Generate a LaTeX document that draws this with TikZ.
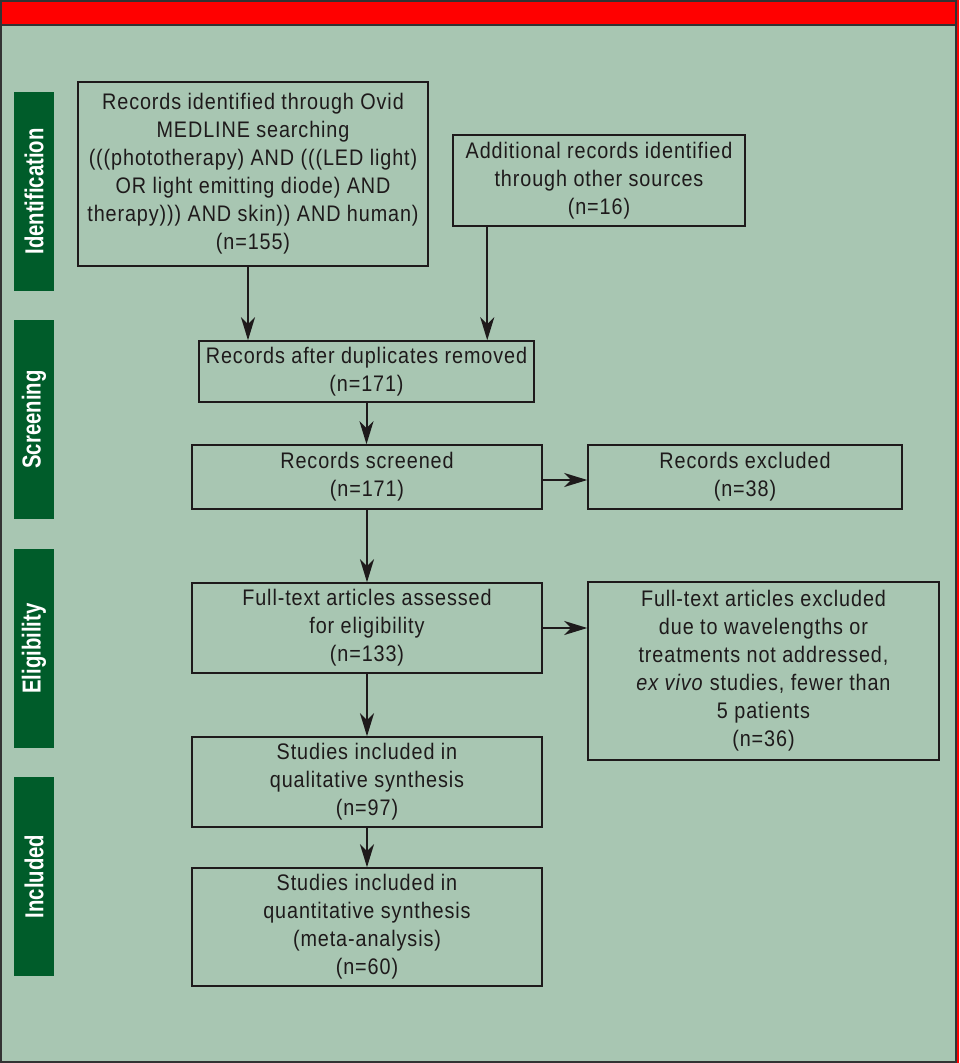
\documentclass[tikz,border=0pt]{standalone}
\usepackage{fontspec}
\usetikzlibrary{arrows.meta,calc}
\newfontfamily\cfont{Liberation Sans}[FakeStretch=0.88, LetterSpace=4]
\newfontfamily\lfont{Liberation Sans}[FakeStretch=0.78, BoldFont={Liberation Sans Bold}]
\definecolor{bggreen}{HTML}{A8C6B2}
\definecolor{lblgreen}{HTML}{005C2A}
\definecolor{ink}{HTML}{1E1A1B}
\definecolor{frame}{HTML}{333333}
\tikzset{
  box/.style={draw=ink, line width=1.5pt, fill=none, inner sep=0pt, align=center, text=ink,
    font=\cfont\fontsize{22.5}{28}\selectfont},
  lbl/.style={fill=lblgreen, inner sep=0pt, minimum width=199pt, minimum height=40pt, rotate=90,
    text=white, font=\lfont\bfseries\fontsize{26}{30}\selectfont},
  arr/.style={draw=ink, line width=2pt, -{Stealth[length=23pt,width=14pt,inset=7pt]}}
}
\begin{document}
\begin{tikzpicture}[x=1pt,y=-1pt]
\useasboundingbox (0,0) rectangle (959,1063);
% frame
\fill[red] (0,0) rectangle (959,26);
\fill[red] (956,0) rectangle (959,1063);
\fill[bggreen] (1,26) rectangle (956,1062);
\draw[frame, line width=2pt] (1,1) rectangle (956,1062);
\draw[frame, line width=2pt] (1,25) -- (956,25);
% stage labels
\node[lbl] (lid) at (34,191.5) {Identification};
\node[lbl] (lsc) at (34,419.5) {Screening};
\node[lbl] (lel) at (34,648.5) {Eligibility};
\node[lbl] (lin) at (34,876.5) {Included};
% boxes
\node[box, minimum width=350pt, minimum height=184pt] (idn) at (253,174) {Records identified through Ovid\\MEDLINE searching\\(((phototherapy) AND (((LED light)\\OR light emitting diode) AND\\therapy))) AND skin)) AND human)\\(n=155)};
\node[box, minimum width=292pt, minimum height=91pt] (add) at (599,180.5) {Additional records identified\\through other sources\\(n=16)};
\node[box, minimum width=335pt, minimum height=61pt] (dup) at (366.5,371.5) {Records after duplicates removed\\(n=171)};
\node[box, minimum width=350pt, minimum height=64pt] (scr) at (367,477) {Records screened\\(n=171)};
\node[box, minimum width=314pt, minimum height=64pt] (exc) at (745,477) {Records excluded\\(n=38)};
\node[box, minimum width=350pt, minimum height=90pt] (ful) at (367,628) {Full-text articles assessed\\for eligibility\\(n=133)};
\node[box, minimum width=351pt, minimum height=178pt] (fex) at (763.5,671) {Full-text articles excluded\\due to wavelengths or\\treatments not addressed,\\\textit{ex vivo} studies, fewer than\\5 patients\\(n=36)};
\node[box, minimum width=350pt, minimum height=90pt] (qual) at (367,782) {Studies included in\\qualitative synthesis\\(n=97)};
\node[box, minimum width=350pt, minimum height=118pt] (quant) at (367,927) {Studies included in\\quantitative synthesis\\(meta-analysis)\\(n=60)};
% connectors
\draw[arr] ([xshift=-5pt]idn.south) -- ([xshift=-5pt]idn.south |- dup.north);
\draw[arr] ([xshift=35pt]add.south west) -- ([xshift=35pt]add.south west |- dup.north);
\draw[arr] (dup.south) -- (dup.south |- scr.north);
\draw[arr] ([yshift=-3pt]scr.east) -- ([yshift=-3pt]scr.east -| exc.west);
\draw[arr] (scr.south) -- (ful.north);
\draw[arr] (ful.east) -- (ful.east -| fex.west);
\draw[arr] (ful.south) -- (qual.north);
\draw[arr] (qual.south) -- (quant.north);
\end{tikzpicture}
\end{document}
